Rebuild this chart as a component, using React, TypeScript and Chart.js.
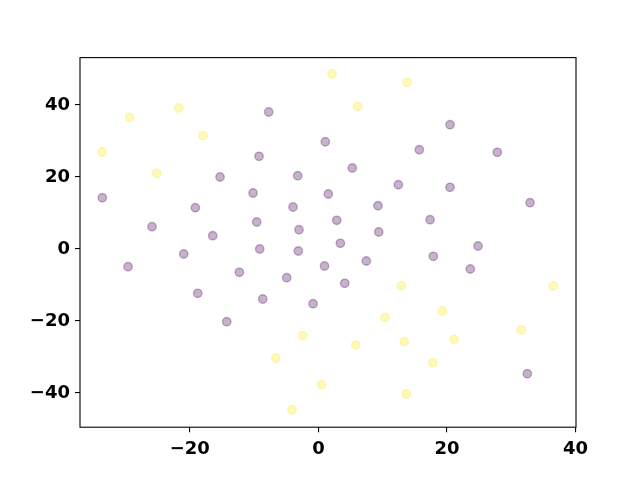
import React, { useEffect, useRef } from "react";
import { Chart, registerables } from "chart.js";

Chart.register(...registerables);

// cluster 0 (purple) points [x, y]
const clusterPurple: [number, number][] = [
  [-7.73, 38.06], [1.07, 29.8], [-9.24, 25.75], [-15.3, 20.0], [-3.22, 20.36],
  [-33.61, 14.25], [-10.17, 15.56], [1.54, 15.28], [-19.14, 11.47], [-3.95, 11.67],
  [-25.88, 6.19], [-9.6, 7.5], [-16.44, 3.69], [-3.02, 5.36], [-9.13, 0.0],
  [-3.13, -0.56], [20.47, 34.53], [15.69, 27.58], [27.82, 26.86], [5.27, 22.5],
  [12.43, 17.86], [20.47, 17.14], [9.27, 12.03], [32.91, 12.86], [2.85, 7.97],
  [17.36, 8.14], [9.38, 4.72], [3.41, 1.58], [24.82, 0.83], [-20.95, -1.39],
  [-29.61, -4.92], [0.95, -4.72], [-12.3, -6.47], [-4.93, -7.97], [-18.77, -12.31],
  [-8.66, -13.89], [-0.84, -15.19], [-14.26, -20.19], [7.45, -3.33], [17.87, -2.03],
  [23.62, -5.56], [4.09, -9.53], [32.49, -34.64],
];

// cluster 1 (yellow) points [x, y]
const clusterYellow: [number, number][] = [
  [2.12, 48.61], [-21.73, 39.17], [-29.35, 36.58], [-17.95, 31.47], [-33.61, 26.94],
  [-25.15, 21.03], [13.78, 46.31], [6.11, 39.64], [-2.44, -24.08], [-6.64, -30.28],
  [0.51, -37.69], [-4.11, -44.72], [12.89, -10.19], [36.53, -10.28], [19.27, -17.22],
  [10.36, -18.97], [31.56, -22.5], [5.8, -26.67], [13.36, -25.75], [21.09, -25.08],
  [17.78, -31.58], [13.67, -40.28],
];

const xTicks = [-20, 0, 20, 40];
const yTicks = [-40, -20, 0, 20, 40];
const xRange = [-37.08, 40.06];
const yRange = [-49.5, 53.17];

const PURPLE = "rgba(68,1,84,0.3)";
const YELLOW = "rgba(253,231,37,0.3)";

const frame = {
  id: "frame",
  afterDraw(chart: any) {
    const { ctx, chartArea: a } = chart;
    ctx.save();
    ctx.strokeStyle = "#000";
    ctx.lineWidth = 1.1;
    ctx.strokeRect(a.left, a.top, a.right - a.left, a.bottom - a.top);
    ctx.restore();
  },
};

const fmt = (v: any) => String(v).replace("-", "\u2212");

export default function App() {
  const ref = useRef<HTMLCanvasElement | null>(null);
  useEffect(() => {
    let chart: Chart | null = null;
    let cancelled = false;
    const make = () => {
      if (cancelled || !ref.current) return;
      const font = { family: "'DejaVu Sans'", size: 18, weight: "bold" as const };
      chart = new Chart(ref.current, {
        type: "scatter",
        data: {
          datasets: [
            {
              data: clusterPurple.map(([x, y]) => ({ x, y })),
              backgroundColor: PURPLE,
              borderColor: PURPLE,
              borderWidth: 1.4,
              pointRadius: 4.2,
            },
            {
              data: clusterYellow.map(([x, y]) => ({ x, y })),
              backgroundColor: YELLOW,
              borderColor: YELLOW,
              borderWidth: 1.4,
              pointRadius: 4.2,
            },
          ],
        },
        options: {
          responsive: false,
          animation: false,
          events: [],
          layout: { padding: { left: 0, right: 64, top: 57.6, bottom: 0 } },
          plugins: { legend: { display: false }, tooltip: { enabled: false } },
          scales: {
            x: {
              type: "linear",
              min: xRange[0],
              max: xRange[1],
              afterBuildTicks: (s: any) => {
                s.ticks = xTicks.map((v) => ({ value: v }));
              },
              afterFit: (s: any) => {
                s.height = 52.8;
              },
              grid: { drawOnChartArea: false, drawTicks: true, tickLength: 5, color: "#000", lineWidth: 1.1 },
              border: { display: false },
              ticks: { color: "#000", font, padding: 6, maxRotation: 0, autoSkip: false, callback: (v: any) => fmt(v) },
            },
            y: {
              type: "linear",
              min: yRange[0],
              max: yRange[1],
              afterBuildTicks: (s: any) => {
                s.ticks = yTicks.map((v) => ({ value: v }));
              },
              afterFit: (s: any) => {
                s.width = 80;
              },
              grid: { drawOnChartArea: false, drawTicks: true, tickLength: 5, color: "#000", lineWidth: 1.1 },
              border: { display: false },
              ticks: { color: "#000", font, padding: 5, autoSkip: false, callback: (v: any) => fmt(v) },
            },
          },
        },
        plugins: [frame],
      });
    };
    const fs: any = (document as any).fonts;
    if (fs && fs.load) {
      fs.load("bold 18px 'DejaVu Sans'").then(make, make);
    } else {
      make();
    }
    return () => {
      cancelled = true;
      if (chart) chart.destroy();
    };
  }, []);
  return (
    <div style={{ position: "fixed", left: 0, top: 0, width: 640, height: 480, background: "#fff" }}>
      <canvas ref={ref} width={640} height={480} style={{ width: 640, height: 480 }} />
    </div>
  );
}
